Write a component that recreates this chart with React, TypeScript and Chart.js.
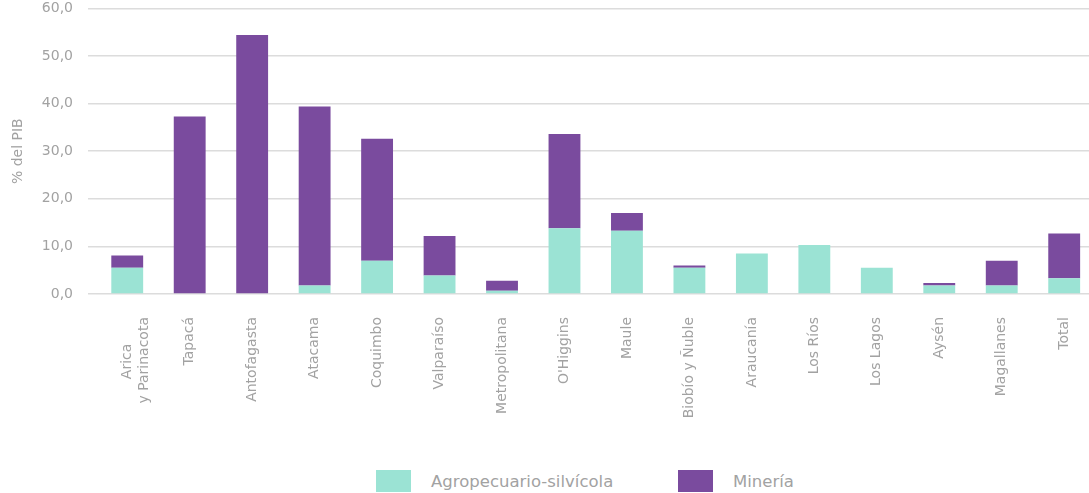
import React, { useEffect, useRef } from "react";
import { Chart, registerables } from "chart.js";

Chart.register(...registerables);

const categories: (string | string[])[] = [
  ["Arica", "y Parinacota"],
  "Tapacá",
  "Antofagasta",
  "Atacama",
  "Coquimbo",
  "Valparaíso",
  "Metropolitana",
  "O'Higgins",
  "Maule",
  "Biobío y Ñuble",
  "Araucanía",
  "Los Ríos",
  "Los Lagos",
  "Aysén",
  "Magallanes",
  "Total",
];

const agropecuario = [5.5, 0, 0, 1.8, 7.0, 3.9, 0.7, 13.8, 13.3, 5.5, 8.5, 10.3, 5.5, 1.8, 1.8, 3.3];
const mineria = [2.6, 37.3, 54.4, 37.6, 25.6, 8.3, 2.1, 19.8, 3.7, 0.5, 0, 0, 0, 0.5, 5.2, 9.4];

const seriesNames = ["Agropecuario-silvícola", "Minería"];
const yTicks = [0, 10, 20, 30, 40, 50, 60];
const yTitle = "% del PIB";

const TEAL = "#9be3d4";
const PURPLE = "#7a4b9e";
const GREY = "#a2a2a2";
const FONT = "'DejaVu Sans', sans-serif";
const TICK_SIZE = 14;

// centre the lines of a multi-line rotated label (Chart.js right-aligns them)
function centredLines(lines: string[]): string[] {
  const ctx = document.createElement("canvas").getContext("2d");
  if (!ctx) return lines;
  ctx.font = `${TICK_SIZE}px ${FONT}`;
  const nb = "\u00a0";
  const nbW = ctx.measureText(nb).width || 4;
  const widths = lines.map((l) => ctx.measureText(l).width);
  const maxW = Math.max(...widths);
  return lines.map((l, i) => l + nb.repeat(Math.round((maxW - widths[i]) / 2 / nbW)));
}

export default function App() {
  const ref = useRef<HTMLCanvasElement | null>(null);

  useEffect(() => {
    if (!ref.current) return;
    const chart = new Chart(ref.current, {
      type: "bar",
      data: {
        labels: categories,
        datasets: [
          { label: seriesNames[0], data: agropecuario, backgroundColor: TEAL, borderWidth: 0 },
          { label: seriesNames[1], data: mineria, backgroundColor: PURPLE, borderWidth: 0 },
        ],
      },
      options: {
        animation: false,
        responsive: false,
        devicePixelRatio: 1,
        layout: { padding: { top: 9, left: 0, right: 0, bottom: 0 } },
        datasets: { bar: { categoryPercentage: 1, barPercentage: 0.51 } },
        plugins: {
          legend: { display: false },
          tooltip: { enabled: false },
        },
        scales: {
          x: {
            stacked: true,
            grid: { display: false, drawTicks: false },
            border: { display: false },
            ticks: {
              color: GREY,
              font: { family: FONT, size: TICK_SIZE },
              minRotation: 90,
              maxRotation: 90,
              padding: 23,
              autoSkip: false,
              callback: (_v: any, i: number) => {
                const l = categories[i];
                return Array.isArray(l) ? centredLines(l) : l;
              },
            },
            afterFit: (s: any) => {
              s.height = 166;
            },
          },
          y: {
            stacked: true,
            min: 0,
            max: 60,
            afterBuildTicks: (s: any) => {
              s.ticks = yTicks.map((v) => ({ value: v }));
            },
            grid: { color: "#dcdcdc", lineWidth: 1.5, drawTicks: true, tickLength: 8, tickColor: "#dcdcdc" },
            border: { display: false },
            ticks: {
              color: GREY,
              font: { family: FONT, size: TICK_SIZE },
              padding: 15,
              callback: (v: any) => Number(v).toFixed(1).replace(".", ","),
            },
            title: {
              display: true,
              text: yTitle,
              color: GREY,
              font: { family: FONT, size: 14 },
              padding: { top: 10, bottom: 0 },
            },
            afterFit: (s: any) => {
              s.width = 96;
            },
          },
        },
      },
    });
    return () => chart.destroy();
  }, []);

  const legendItem = (color: string, text: string, left: number) => (
    <div style={{ position: "absolute", left, top: 470, height: 22, display: "flex", alignItems: "center" }}>
      <div style={{ width: 35, height: 22, background: color }} />
      <span style={{ marginLeft: 20, fontFamily: FONT, fontSize: 16.5, color: GREY, whiteSpace: "nowrap" }}>{text}</span>
    </div>
  );

  return (
    <div style={{ position: "fixed", left: 0, top: 0, width: 1089, height: 493, overflow: "hidden", background: "#fff" }}>
      <canvas ref={ref} width={1104} height={475} style={{ position: "absolute", left: 0, top: -15, width: 1104, height: 475 }} />
      {legendItem(TEAL, seriesNames[0], 376)}
      {legendItem(PURPLE, seriesNames[1], 678)}
    </div>
  );
}
